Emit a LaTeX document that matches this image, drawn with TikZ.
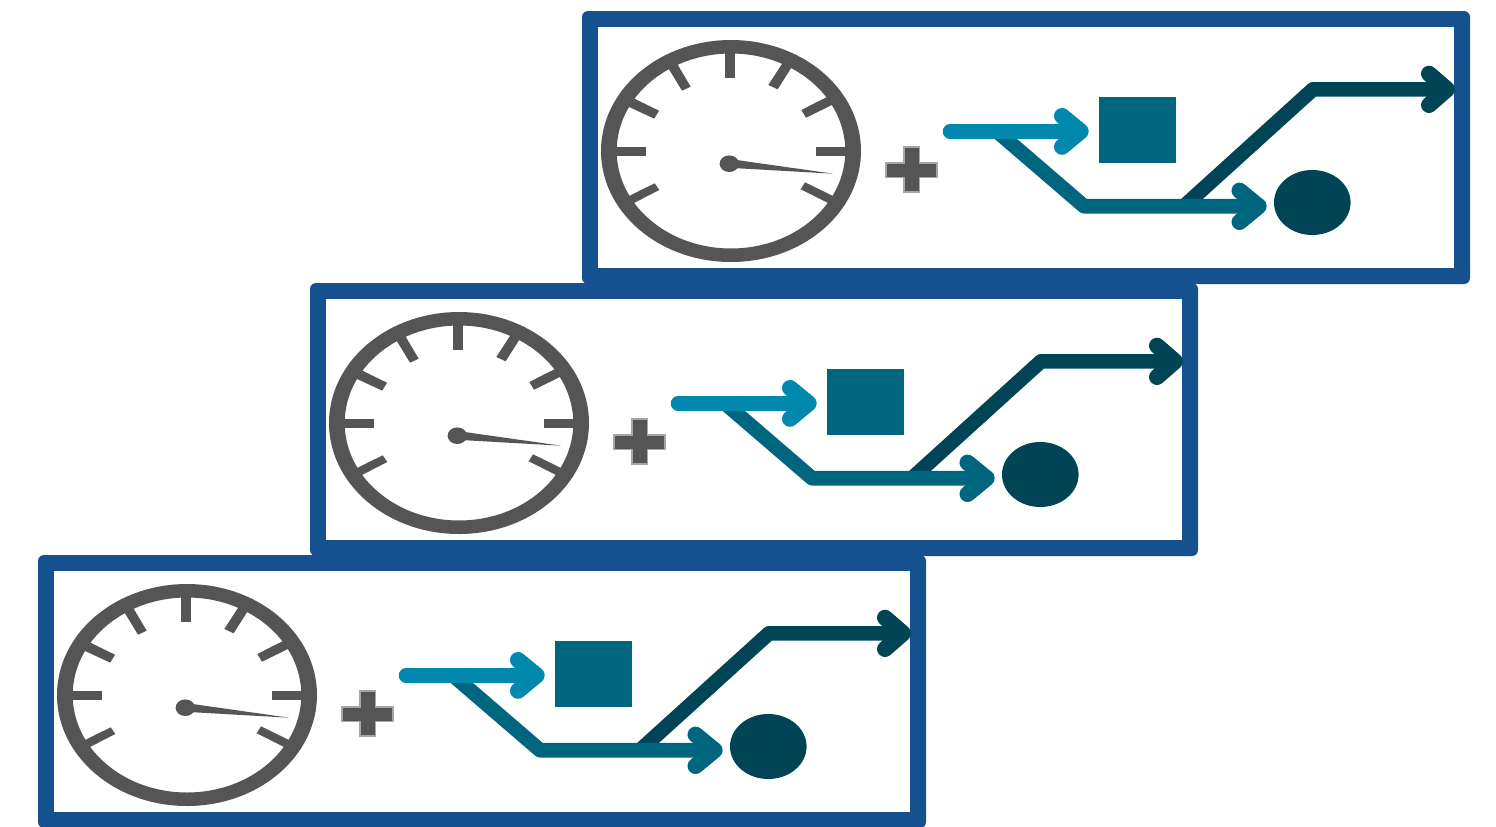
\documentclass[tikz,border=0pt]{standalone}
\definecolor{frameblue}{HTML}{155190}
\definecolor{gaugegray}{HTML}{555555}
\definecolor{pluslight}{HTML}{A6A6A6}
\definecolor{teallight}{HTML}{0089AC}
\definecolor{tealmid}{HTML}{006680}
\definecolor{tealdark}{HTML}{004455}
\begin{document}
\begin{tikzpicture}[x=0.5pt,y=-0.5pt,line width=0.5pt,
  flow/.style={line width=7.3pt,line join=round},
  tip/.style={line width=8pt,line join=round,line cap=round}]
\useasboundingbox (0,0) rectangle (1496,826);
\foreach \dx/\dy in {0/0,-272/272,-544/544}{
\begin{scope}[shift={(\dx,\dy)}]
\fill[frameblue,rounded corners=3pt] (582,11) rectangle (1470,284);
\fill[white] (598,27) rectangle (1454,268);
\fill[gaugegray,even odd rule] (731,151) ellipse[x radius=130,y radius=111]
  (731,151) ellipse[x radius=114.3,y radius=97.5];
\fill[gaugegray] (724.5,50) -- (735,50) -- (735,78.3) -- (724.5,78.3) -- cycle;
\fill[gaugegray] (612,147) -- (645.7,147) -- (645.7,155.7) -- (612,155.7) -- cycle;
\fill[gaugegray] (816,147) -- (850,147) -- (850,155.7) -- (816,155.7) -- cycle;
\fill[gaugegray] (667,66) -- (675.5,61) -- (690.7,86.7) -- (682,90.7) -- cycle;
\fill[gaugegray] (793,65) -- (784.5,60) -- (768.3,85) -- (777.7,89.3) -- cycle;
\fill[gaugegray] (834,104) -- (829,96) -- (801.3,110) -- (806,117.7) -- cycle;
\fill[gaugegray] (627,106) -- (632,97.5) -- (659,110.7) -- (654.3,118.7) -- cycle;
\fill[gaugegray] (627,197) -- (632,204) -- (659.3,190) -- (654.7,183.3) -- cycle;
\fill[gaugegray] (835,197) -- (830,204) -- (800.7,189.3) -- (805,182.3) -- cycle;
\fill[gaugegray] (729.3,163.7) ellipse[x radius=9.7,y radius=8.3];
\fill[gaugegray] (733,159.5) -- (833.3,173.7) -- (733,168) -- cycle;
\draw[fill=gaugegray,draw=pluslight,line width=0.8pt] (904,147) -- (919.3,147) -- (919.3,162.7)
  -- (936.7,162.7) -- (936.7,177.3) -- (919.3,177.3) -- (919.3,192) -- (904,192)
  -- (904,177.3) -- (886,177.3) -- (886,162.7) -- (904,162.7) -- cycle;
\coordinate (split) at (997,131.3);
\coordinate (lowbend) at (1084,206.2);
\coordinate (lowtip) at (1258.7,206.2);
\coordinate (rise) at (1184,206.2);
\coordinate (upbend) at (1313,89.3);
\coordinate (uptip) at (1447,89.3);
\coordinate (feedtip) at (1080.7,131.3);
\fill[tealmid] (1099.3,97.3) rectangle (1176,162.7);
\fill[tealdark] (1312.3,202.5) ellipse[x radius=38.3,y radius=32.5];
\draw[flow,tealdark] (rise) -- (upbend) -- (uptip);
\draw[tip,tealdark] (1429,73.7) -- (uptip) -- (1429,105);
\draw[flow,tealmid] (split) -- (lowbend) -- (lowtip);
\draw[tip,tealmid] (1239.5,190.6) -- (lowtip) -- (1239.5,222);
\draw[flow,line cap=round,teallight] (950,131.3) -- (feedtip);
\draw[tip,teallight] (1062,116) -- (feedtip) -- (1062,146.8);
\end{scope}
}
\end{tikzpicture}
\end{document}
